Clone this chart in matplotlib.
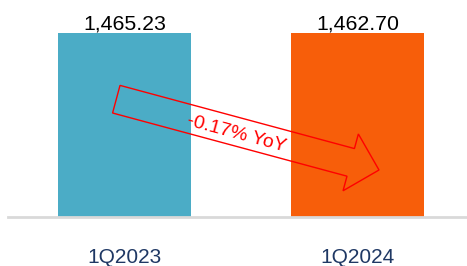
import numpy as np
import matplotlib
matplotlib.use("Agg")
import matplotlib.pyplot as plt
from matplotlib.patches import Polygon

plt.rcParams["font.family"] = ["Liberation Sans", "DejaVu Sans"]

categories = ["1Q2023", "1Q2024"]
values = [1465.23, 1462.70]
value_labels = ["1,465.23", "1,462.70"]
bar_colors = ["#4BACC6", "#F75E0A"]
change_label = "-0.17% YoY"

W, H = 467, 266
fig = plt.figure(figsize=(W / 100, H / 100), dpi=100)
ax = fig.add_axes([8 / W, 1 - 217 / H, 1 - 8 / W, 217 / H])

x = np.arange(len(categories))
ax.bar(x, values, width=0.571, color=bar_colors, zorder=2)
for xi, v, lab in zip(x, values, value_labels):
    ax.annotate(lab, (xi, v), xytext=(0, 0), textcoords="offset points",
                ha="center", va="bottom", fontsize=15.3, color="#000000")

ax.set_xlim(-0.4996, 1.47)
ax.set_ylim(0, values[0] * 217 / 184)
ax.set_xticks(x)
ax.set_xticklabels(categories, fontsize=15, color="#1F3864")
ax.tick_params(axis="x", length=0, pad=22)
ax.set_yticks([])
for side in ["top", "left", "right"]:
    ax.spines[side].set_visible(False)
ax.spines["bottom"].set_color("#D9D9D9")
ax.spines["bottom"].set_linewidth(2)
ax.spines["bottom"].set_zorder(3)

# outlined block arrow, geometry in pixels (y down)
tail = np.array([116.3, 99.2])
tip = np.array([379.0, 170.0])
shaft_w, head_w, head_l = 28.6, 58.8, 29.3
d = (tip - tail) / np.linalg.norm(tip - tail)
n = np.array([d[1], -d[0]])
base = tip - d * head_l
pts = [
    tail + n * shaft_w / 2,
    base + n * shaft_w / 2,
    base + n * head_w / 2,
    tip,
    base - n * head_w / 2,
    base - n * shaft_w / 2,
    tail - n * shaft_w / 2,
]
pts = [(p[0] / W, 1 - p[1] / H) for p in pts]
fig.patches.append(Polygon(pts, closed=True, fill=False, edgecolor="#FF0000",
                           linewidth=1.0, transform=fig.transFigure, zorder=5))
angle = np.degrees(np.arctan2(d[1], d[0]))
fig.text(236 / W, 1 - 134 / H, change_label, color="#FF0000", fontsize=14,
         rotation=-angle, rotation_mode="anchor", ha="center", va="center")

fig.savefig("out.png", dpi=100)
